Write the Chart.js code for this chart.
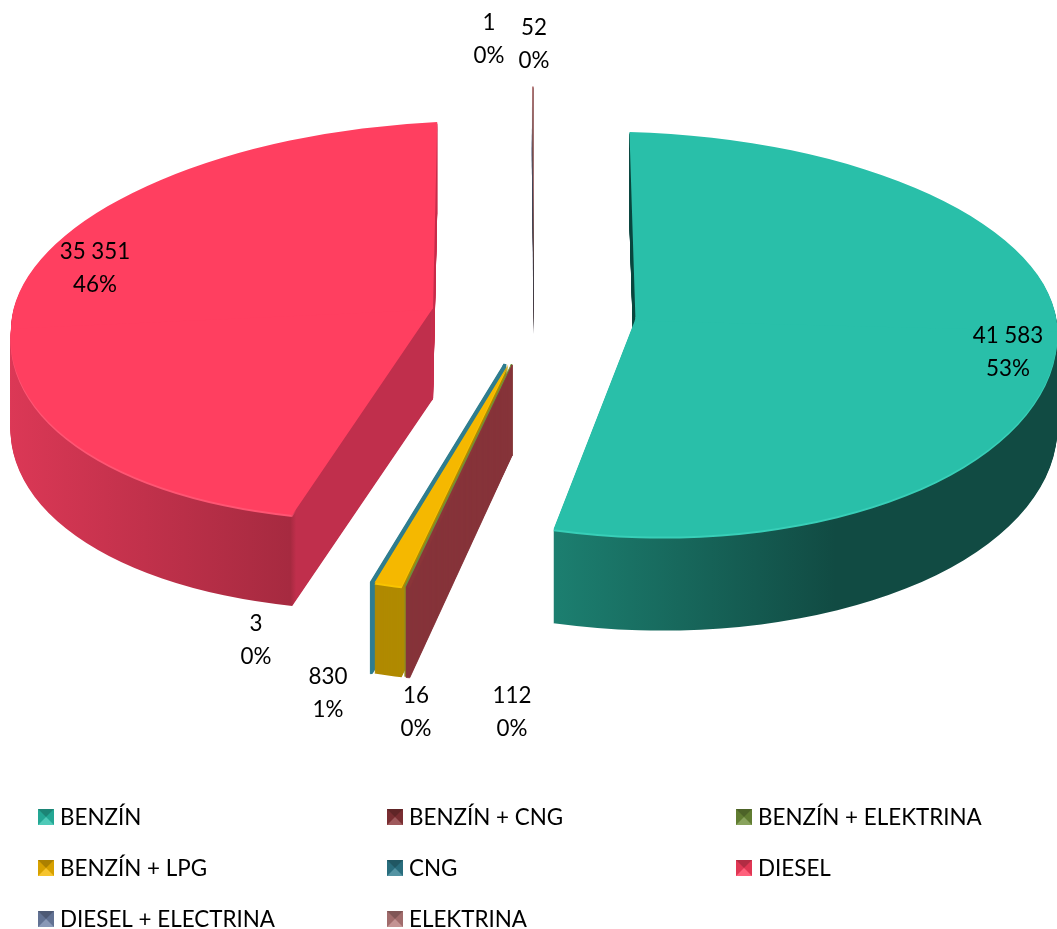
<!DOCTYPE html>
<html>
<head>
<meta charset="utf-8">
<style>
html, body { margin: 0; background: #fff; }
canvas { display: block; }
</style>
<script src="https://cdn.jsdelivr.net/npm/chart.js@4"></script>
</head>
<body>
<canvas id="fuelChart" width="1057" height="929"></canvas>
<script>
const categories = ['BENZÍN', 'BENZÍN + CNG', 'BENZÍN + ELEKTRINA', 'BENZÍN + LPG', 'CNG', 'DIESEL', 'DIESEL + ELECTRINA', 'ELEKTRINA']
const values = [41583, 112, 16, 830, 3, 35351, 1, 52]
const valueLabels = ['41 583', '112', '16', '830', '3', '35 351', '1', '52']
const percentLabels = ['53%', '0%', '0%', '1%', '0%', '46%', '0%', '0%']

// top faces, legend swatches
const colors = ['#29bfa9', '#8a3539', '#6f8f3a', '#f5b800', '#2f7d8f', '#ff3f60', '#7082a8', '#b87c7c']
// walls: gradient stops by position across the slice's own circle, or a flat colour
const walls = [
  [[0, '#1c7f70'], [0.396, '#1c7f70'], [0.73, '#114b43'], [1, '#114b43']],
  '#86343a', '#8f8a20', '#b08a00', '#2f7d8f',
  [[0, '#dc3856'], [0.356, '#a62a40'], [0.362, '#c02f4c'], [1, '#c02f4c']],
  '#56627e', '#45393b'
]
const backWalls = ['#0f4a42', '#86343a', '#8f8a20', '#b08a00', '#2f7d8f', '#c9304f', '#56627e', '#45393b']
// lighter edge just under the top face, only along the outer arc
const rims = [
  '#38cfb8', null, null, '#f9c400', null,
  [[0, '#ff5573'], [0.356, '#ff5573'], [0.362, '#c02f4c'], [1, '#c02f4c']],
  null, null
]
const hairlines = [0, 1, 1.5, 0, 3, 0, 0, 0]

// 3D look: how each slice is squashed and leaned, and how thick it is
const radius = 422
const explode = 102
const centerX = 534
const centerY = 314
const apexSquashUp = 0.45
const apexSquashDown = 0.507
const squashUp = [0.443, 0.45, 0.45, 0.45, 0.45, 0.441, 0.43, 0.43]
const squashDown = [0.515, 0.54, 0.54, 0.54, 0.54, 0.498, 0.5, 0.5]
const leanUp = [0.0142, 0, 0, 0, 0, -0.0142, 0, 0]
const leanDown = [0.015, -0.035, -0.035, -0.035, -0.035, -0.052, 0, 0]
const tilt = [0.025, 0, 0, 0, 0, -0.045, 0, 0]
const depths = [94, 90, 90, 91, 91, 91, 68, 68]
const drawOrder = [5, 0, 4, 3, 2, 1, 7, 6]

const labelPositions = [[1008, 336], [512, 696], [416, 696], [328, 677], [256, 624], [95, 252], [489, 23], [534, 28]]
const labelGap = 32.5
const legendColumns = [38, 387, 736]
const legendRows = [818, 869, 920]
const legendOrder = [[0, 1, 2], [3, 4, 5], [6, 7]]
const textFont = '22.4px Lato, Carlito, sans-serif'

function sideFill(ctx, el, shade) {
  if (typeof shade === 'string') return shade
  const g = ctx.createLinearGradient(el.x - radius, 0, el.x + radius, 0)
  shade.forEach(s => g.addColorStop(s[0], s[1]))
  return g
}

// draws one arc through Chart.js, upper and lower part of the ellipse separately
function drawSlice(ctx, el, i, drop, fillUp, fillDown) {
  const mid = (el.startAngle + el.endAngle) / 2
  const ax = centerX + Math.cos(mid) * explode
  const sin = Math.sin(mid)
  const ay = Math.round(centerY + sin * explode * (sin > 0 ? apexSquashDown : apexSquashUp)) + drop
  const saved = el.options
  const parts = [
    [el.y, 600, squashDown[i], leanDown[i], fillDown],
    [el.y - 600, 600, squashUp[i], leanUp[i], fillUp]
  ]
  parts.forEach((p, n) => {
    ctx.save()
    ctx.transform(1, tilt[i], p[3], p[2], ax - el.x - p[3] * el.y, ay - p[2] * el.y - tilt[i] * el.x)
    ctx.beginPath()
    // lower part is cut a little long so no seam shows where the two meet
    ctx.rect(el.x - 600, n === 0 ? p[0] - 4 : p[0], 1200, p[1] + 4)
    ctx.clip()
    el.options = Object.assign({}, saved, { backgroundColor: p[4], borderColor: p[4] })
    el.draw(ctx)
    ctx.restore()
  })
  el.options = saved
}

const pie3d = {
  id: 'pie3d',
  beforeDatasetsDraw(chart) {
    const ctx = chart.ctx
    const arcs = chart.getDatasetMeta(0).data
    drawOrder.forEach(i => {
      const el = arcs[i]
      const side = sideFill(ctx, el, walls[i])
      for (let d = depths[i]; d > 0; d--) drawSlice(ctx, el, i, d, backWalls[i], side)
      if (rims[i]) drawSlice(ctx, el, i, 2, backWalls[i], sideFill(ctx, el, rims[i]))
    })
    drawOrder.forEach(i => drawSlice(ctx, arcs[i], i, 0, colors[i], colors[i]))
    return false
  },
  afterDraw(chart) {
    const ctx = chart.ctx
    ctx.save()
    ctx.font = textFont
    ctx.fillStyle = '#000'
    ctx.textBaseline = 'middle'
    ctx.textAlign = 'center'
    valueLabels.forEach((t, i) => {
      const p = labelPositions[i]
      ctx.fillText(t, p[0], p[1])
      ctx.fillText(percentLabels[i], p[0], p[1] + labelGap)
    })
    ctx.textAlign = 'left'
    legendOrder.forEach((row, r) => row.forEach((i, c) => {
      const x = legendColumns[c]
      const y = legendRows[r]
      drawSwatch(ctx, x, y - 9, 16, colors[i])
      ctx.fillStyle = '#000'
      ctx.fillText(categories[i], x + 22, y)
    }))
    ctx.restore()
  }
}

// small bevelled marker like the legend keys
function drawSwatch(ctx, x, y, s, color) {
  const cx = x + s / 2
  const cy = y + s / 2
  const sides = [
    [[x, y], [x + s, y], 'rgba(0,0,0,0.3)'],
    [[x + s, y], [x + s, y + s], 'rgba(0,0,0,0.12)'],
    [[x + s, y + s], [x, y + s], 'rgba(255,255,255,0.18)'],
    [[x, y + s], [x, y], 'rgba(0,0,0,0.12)']
  ]
  ctx.fillStyle = color
  ctx.fillRect(x, y, s, s)
  sides.forEach(t => {
    ctx.beginPath()
    ctx.moveTo(t[0][0], t[0][1])
    ctx.lineTo(t[1][0], t[1][1])
    ctx.lineTo(cx, cy)
    ctx.closePath()
    ctx.fillStyle = t[2]
    ctx.fill()
  })
}

new Chart(document.getElementById('fuelChart').getContext('2d'), {
  type: 'pie',
  data: {
    labels: categories,
    datasets: [{
      data: values,
      backgroundColor: colors,
      borderWidth: hairlines,
      borderColor: colors
    }]
  },
  options: {
    responsive: false,
    animation: false,
    radius: radius,
    plugins: { legend: { display: false }, tooltip: { enabled: false } }
  },
  plugins: [pie3d]
})
</script>
</body>
</html>
